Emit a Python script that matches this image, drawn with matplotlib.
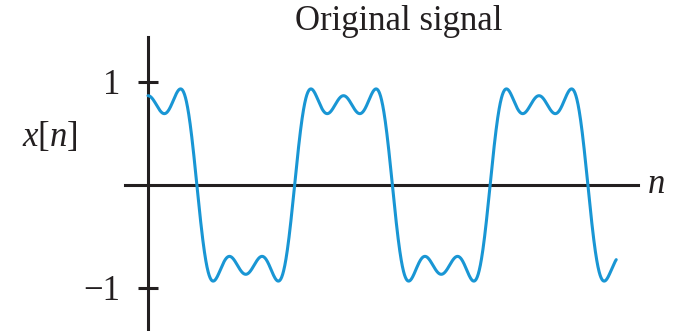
import numpy as np
import matplotlib
matplotlib.use("Agg")
import matplotlib.pyplot as plt

plt.rcParams["font.family"] = ["Liberation Serif", "DejaVu Serif"]
plt.rcParams["mathtext.fontset"] = "custom"
plt.rcParams["mathtext.rm"] = "Liberation Serif"
plt.rcParams["mathtext.it"] = "Liberation Serif:italic"

# Cosine series of the odd harmonics that build the square-like wave
harmonics = [1, 3, 5]
amplitudes = [1.0, -0.333, 0.2]
period = 1.0          # one period in n units
n_end = 2.395         # signal drawn from n = 0 to here
y_ticks = [-1, 1]
y_tick_labels = ["\u22121", "1"]
title = "Original signal"

ink = "#231f20"
blue = "#1996d4"

n = np.linspace(0, n_end, 2000)
x = np.zeros_like(n)
for k, a in zip(harmonics, amplitudes):
    x += a * np.cos(2 * np.pi * k * n / period)

fig = plt.figure(figsize=(6.73, 3.31), dpi=100)
ax = fig.add_axes([0, 0, 1, 1])

px_per_n = 195.5
px_per_unit = 103.0
x0_px, y0_px = 148.0, 185.0
W, H = 673.0, 331.0
ax.set_xlim(-x0_px / px_per_n, (W - x0_px) / px_per_n)
ax.set_ylim((y0_px - H) / px_per_unit, y0_px / px_per_unit)

ax.plot(n, x, color=blue, lw=2.2, solid_capstyle="round", zorder=3)

for s in ["top", "right"]:
    ax.spines[s].set_visible(False)
ax.spines["left"].set_position(("data", 0))
ax.spines["bottom"].set_position(("data", 0))
ax.spines["left"].set_bounds((y0_px - H) / px_per_unit, (y0_px - 37) / px_per_unit)
ax.spines["bottom"].set_bounds((125 - x0_px) / px_per_n, (638 - x0_px) / px_per_n)
for s in ["left", "bottom"]:
    ax.spines[s].set_color(ink)
    ax.spines[s].set_linewidth(2.2)
    ax.spines[s].set_zorder(2)

ax.set_xticks([])
ax.set_yticks(y_ticks)
ax.set_yticklabels(y_tick_labels)
ax.tick_params(axis="y", direction="inout", length=14.5, width=2.2, color=ink,
               labelsize=25, labelcolor=ink, pad=13)

ax.text(-0.50, 0.466, r"$x[n]$", fontsize=25, color=ink, ha="center", va="center")
ax.text(2.60, 0.0, r"$n$", fontsize=25, color=ink, ha="center", va="center")
ax.text(1.281, 1.505, title, fontsize=25, color=ink, ha="center", va="baseline")

fig.savefig("out.png", dpi=100)
